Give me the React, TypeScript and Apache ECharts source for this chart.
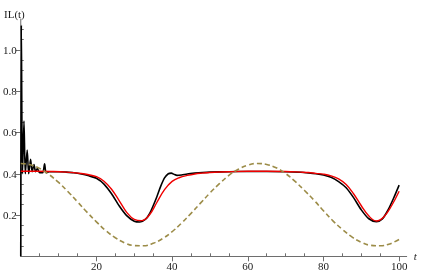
import React, { useEffect, useRef } from "react";
import * as echarts from "echarts";

// dashed (olive) curve
const dashedT = [0, 2.5, 5, 7.5, 10, 12.5, 15, 17.5, 20, 22.5, 25, 27.5, 30, 32.5, 35, 37.5, 40, 42.5, 45, 47.5, 50, 52.5, 55, 57.5, 60, 62.5, 65, 67.5, 70, 72.5, 75, 77.5, 80, 82.5, 85, 87.5, 90, 92.5, 95, 97.5, 100];
const dashedV = [0.45, 0.444, 0.4255, 0.396, 0.358, 0.313, 0.264, 0.214, 0.167, 0.124, 0.09, 0.065, 0.052, 0.051, 0.063, 0.086, 0.119, 0.161, 0.208, 0.2575, 0.307, 0.352, 0.392, 0.422, 0.442, 0.45, 0.445, 0.429, 0.401, 0.363, 0.319, 0.272, 0.221, 0.172, 0.13, 0.094, 0.068, 0.053, 0.051, 0.06, 0.082];

// red curve
const redT = [0, 4, 8, 12, 16, 18, 20, 22, 24, 26, 28, 30, 32, 34, 36, 38, 40, 42, 44, 46, 48, 50, 55, 60, 65, 70, 74, 76, 78, 80, 82, 84, 86, 88, 90, 92, 94, 96, 98, 100];
const redV = [0.412, 0.412, 0.411, 0.408, 0.401, 0.395, 0.386, 0.364, 0.325, 0.27, 0.213, 0.179, 0.173, 0.2, 0.262, 0.323, 0.363, 0.382, 0.392, 0.399, 0.403, 0.406, 0.41, 0.412, 0.412, 0.411, 0.408, 0.406, 0.402, 0.398, 0.39, 0.375, 0.348, 0.302, 0.245, 0.195, 0.171, 0.192, 0.245, 0.315];

// black curve
const blackT = [0, 0.15, 0.45, 0.85, 1.2, 1.7, 2.1, 2.6, 3.0, 3.5, 3.9, 4.4, 5.0, 5.8, 6.3, 6.7, 7.5, 10, 12, 14, 16, 18, 20, 22, 24, 26, 28, 30, 31.5, 33, 34, 35, 36, 37, 38, 39, 39.8, 40.5, 41.3, 42.5, 44, 46, 48, 50, 55, 60, 65, 70, 74, 76, 78, 80, 82, 84, 86, 88, 90, 92, 94, 95.5, 97, 98.5, 100];
const blackV = [0, 1.12, 0.4, 0.655, 0.4, 0.515, 0.4, 0.47, 0.41, 0.445, 0.41, 0.425, 0.405, 0.405, 0.448, 0.405, 0.41, 0.41, 0.408, 0.405, 0.399, 0.39, 0.378, 0.35, 0.303, 0.245, 0.197, 0.17, 0.166, 0.18, 0.205, 0.245, 0.29, 0.34, 0.38, 0.4, 0.403, 0.397, 0.392, 0.394, 0.399, 0.403, 0.406, 0.408, 0.41, 0.411, 0.411, 0.41, 0.407, 0.404, 0.4, 0.394, 0.383, 0.362, 0.332, 0.283, 0.225, 0.182, 0.168, 0.18, 0.222, 0.28, 0.345];

// ticks and labels
const xMinorTicks = [5, 10, 15, 25, 30, 35, 45, 50, 55, 65, 70, 75, 85, 90, 95];
const xMajorTicks = [20, 40, 60, 80, 100];
const yMinorTicks = [0.05, 0.1, 0.15, 0.25, 0.3, 0.35, 0.45, 0.5, 0.55, 0.65, 0.7, 0.75, 0.85, 0.9, 0.95, 1.05, 1.1];
const yMajorTicks = [0.2, 0.4, 0.6, 0.8, 1.0];

const zip = (t: number[], v: number[]) => t.map((x, i) => [x, v[i]]);

const FONT = "Liberation Serif";
const AXIS_COLOR = "#6e6e6e";
const LABEL_COLOR = "#1a1a1a";

export default function App() {
  const ref = useRef<HTMLDivElement>(null);
  useEffect(() => {
    if (!ref.current) return;
    const chart = echarts.init(ref.current, null, { renderer: "svg" });
    const grid = { left: 19, right: 14.3, top: 19, bottom: 16.7, containLabel: false };
    const xBase = { type: "value", min: 0, max: 102, splitLine: { show: false } };
    const yBase = { type: "value", min: 0, max: 1.15, splitLine: { show: false } };
    chart.setOption({
      animation: false,
      grid,
      xAxis: [
        {
          ...xBase,
          axisLine: { show: true, onZero: false, lineStyle: { color: AXIS_COLOR, width: 1 } },
          axisTick: { show: true, inside: true, length: 3, customValues: xMinorTicks, lineStyle: { color: AXIS_COLOR } },
          axisLabel: {
            show: true,
            customValues: xMajorTicks,
            margin: 4,
            color: LABEL_COLOR,
            fontFamily: FONT,
            fontSize: 11,
            formatter: (v: number) => String(v),
          },
          name: "t",
          nameLocation: "end",
          nameGap: 7,
          nameTextStyle: { fontFamily: FONT, fontStyle: "italic", fontSize: 11, color: LABEL_COLOR, verticalAlign: "middle" },
        },
        {
          ...xBase,
          axisLine: { show: false },
          axisTick: { show: true, inside: true, length: 5, customValues: xMajorTicks, lineStyle: { color: AXIS_COLOR } },
          axisLabel: { show: false },
        },
      ],
      yAxis: [
        {
          ...yBase,
          axisLine: { show: true, onZero: false, lineStyle: { color: AXIS_COLOR, width: 1 } },
          axisTick: { show: true, inside: true, length: 3, customValues: yMinorTicks, lineStyle: { color: AXIS_COLOR } },
          axisLabel: {
            show: true,
            customValues: yMajorTicks,
            margin: 4,
            color: LABEL_COLOR,
            fontFamily: FONT,
            fontSize: 11,
            formatter: (v: number) => v.toFixed(1),
          },
        },
        {
          ...yBase,
          axisLine: { show: false },
          axisTick: { show: true, inside: true, length: 5, customValues: yMajorTicks, lineStyle: { color: AXIS_COLOR } },
          axisLabel: { show: false },
        },
      ],
      graphic: [
        {
          type: "text",
          left: 4,
          top: 8,
          style: { text: "IL(t)", fontFamily: FONT, fontSize: 11, fill: LABEL_COLOR },
        },
      ],
      series: [
        {
          type: "line",
          data: zip(blackT, blackV),
          showSymbol: false,
          smooth: 0.25,
          lineStyle: { color: "#000", width: 1.6 },
          z: 2,
        },
        {
          type: "line",
          data: zip(redT, redV),
          showSymbol: false,
          smooth: 0.4,
          lineStyle: { color: "#f00000", width: 1.4 },
          z: 3,
        },
        {
          type: "line",
          data: zip(dashedT, dashedV),
          showSymbol: false,
          smooth: 0.4,
          lineStyle: { color: "#9c8c48", width: 1.6, type: [5, 3] },
          z: 4,
        },
      ],
    });
    return () => chart.dispose();
  }, []);
  return <div ref={ref} style={{ position: "fixed", left: 0, top: 0, width: 421, height: 273 }} />;
}
